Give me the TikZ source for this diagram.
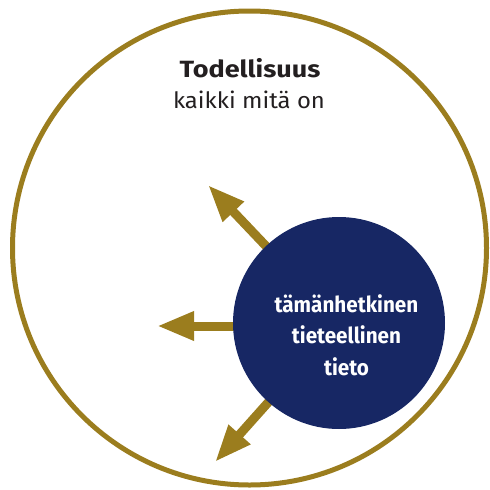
\documentclass[tikz,border=0pt]{standalone}
\usepackage{fontspec}
\setmainfont{Fira Sans}
\newfontfamily\condbold[FakeStretch=0.94]{Fira Sans Bold}
\newfontfamily\titlefont[FakeStretch=1.15]{Fira Sans Bold}
\newfontfamily\subfont[FakeStretch=1.06]{Fira Sans}
\usetikzlibrary{arrows.meta}
\definecolor{gold}{HTML}{9B7D1E}
\definecolor{navy}{HTML}{172764}
\definecolor{ink}{HTML}{231F20}
\tikzset{
  outerring/.style={draw=gold, line width=5pt},
  growarrow/.style={draw=gold, line width=9pt, -{Triangle[length=37pt,width=27pt]}},
  knowledge/.style={circle, fill=navy, minimum size=212pt, inner sep=0pt},
  innertext/.style={text=white, font=\condbold\fontsize{22}{31.5}\selectfont, align=center},
  titletext/.style={text=ink, font=\titlefont\fontsize{23.5}{28}\selectfont, anchor=base},
  subtext/.style={text=ink, font=\subfont\fontsize{22.5}{26}\selectfont, anchor=base}
}
\begin{document}
\begin{tikzpicture}[x=1pt,y=-1pt]
\useasboundingbox (0,0) rectangle (490,490);
\node[outerring, circle, minimum size=474pt, inner sep=0pt] (world) at (249.5,248) {};
\node[titletext] (title) at (250,77.5) {Todellisuus};
\node[subtext] (sub) at (249,108.5) {kaikki mitä on};
\coordinate (c) at (339,323);
\coordinate (cl) at (339,326);
\coordinate (t1) at (208,185);
\coordinate (t2) at (157,326);
\coordinate (t3) at (215,462);
\draw[growarrow] (c) -- (t1);
\draw[growarrow] (cl) -- (t2);
\draw[growarrow] (c) -- (t3);
\node[knowledge] (k) at (c) {};
\node[innertext, anchor=base] (kt) at (346.5,375) {tämänhetkinen\\tieteellinen\\tieto};
\end{tikzpicture}
\end{document}
